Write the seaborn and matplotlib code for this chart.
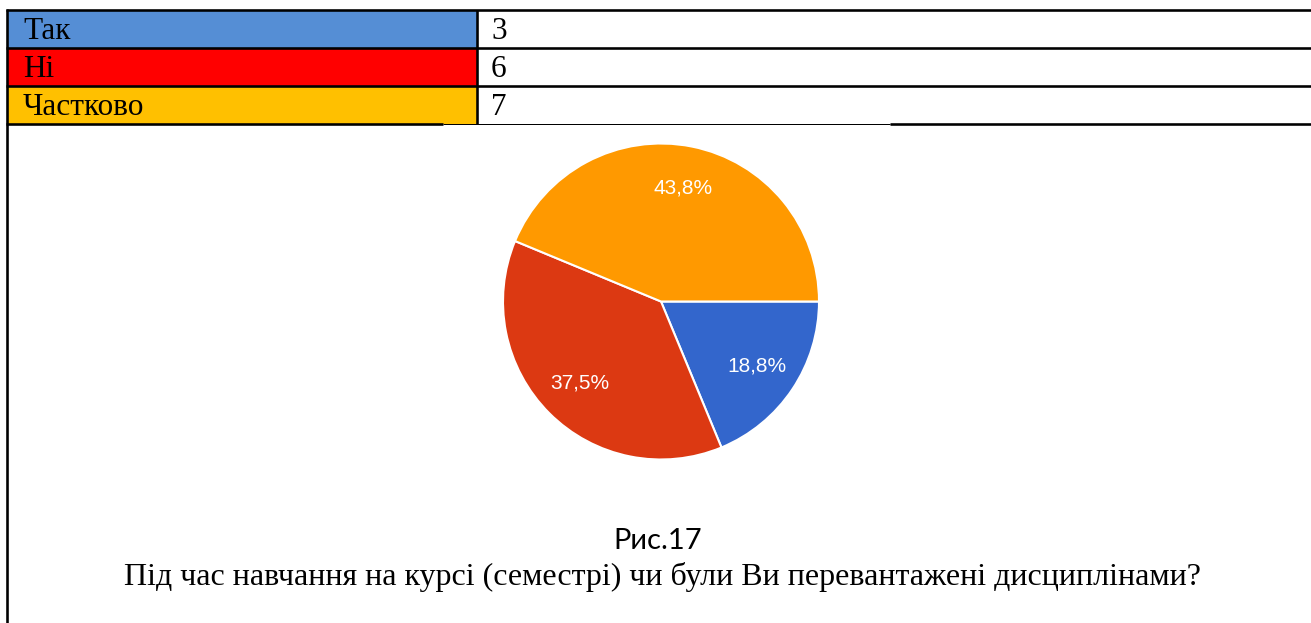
import matplotlib
matplotlib.use("Agg")
import matplotlib.pyplot as plt
import seaborn as sns
from matplotlib.patches import Rectangle

# ---- data ----
categories = ["Так", "Ні", "Частково"]
counts = [3, 6, 7]
cell_colors = ["#558ED5", "#FF0000", "#FFC000"]
pie_colors = ["#3366CC", "#DC3912", "#FF9900"]
fig_label = "Рис.17"
question = "Під час навчання на курсі (семестрі) чи були Ви перевантажені дисциплінами?"

sns.set_theme(style="white")
plt.rcParams['font.family'] = ['Liberation Serif', 'DejaVu Serif']
plt.rcParams['text.color'] = 'black'

W, H = 1311, 623
fig = plt.figure(figsize=(W / 100, H / 100), dpi=100)
fig.patch.set_facecolor("white")

# overlay axes in pixel coordinates
ov = fig.add_axes([0, 0, 1, 1])
ov.set_xlim(0, W)
ov.set_ylim(H, 0)
ov.axis("off")

px = 0.72  # points per pixel
row_top = [10, 48, 86]
row_h = 38
for i, (cat, n, col) in enumerate(zip(categories, counts, cell_colors)):
    y0 = row_top[i]
    ov.add_patch(Rectangle((8, y0), 469, row_h, facecolor=col, edgecolor="none"))
    ov.text(23, y0 + 29, cat, fontsize=22.5, color="black", va="baseline", ha="left")
    ov.text(491, y0 + 29, str(n), fontsize=22.5, color="black", va="baseline", ha="left")

thick = 2.6 * px
for y in [10, 47.5, 85.5]:
    ov.plot([6, W], [y, y], color="black", lw=thick, solid_capstyle="butt")
ov.plot([6, 443], [124, 124], color="black", lw=thick, solid_capstyle="butt")
ov.plot([443, 890], [123.5, 123.5], color="black", lw=1.0 * px, solid_capstyle="butt")
ov.plot([890, W], [124, 124], color="black", lw=thick, solid_capstyle="butt")
ov.plot([7, 7], [9, H], color="black", lw=thick, solid_capstyle="butt")
ov.plot([477, 477], [10, 124], color="black", lw=thick, solid_capstyle="butt")

# captions
ov.text(658, 549, fig_label, fontsize=21, family=["Lato", "DejaVu Sans"], color="black",
        ha="center", va="baseline")
ov.text(662, 585, question, fontsize=23, color="black", ha="center", va="baseline")

# pie
cx, cy, r = 661, 301.5, 158
pax = fig.add_axes([(cx - r) / W, 1 - (cy + r) / H, 2 * r / W, 2 * r / H])
wedges, texts, autotexts = pax.pie(
    counts, colors=pie_colors, startangle=0, counterclock=False,
    autopct=lambda p: f"{p:.1f}%".replace(".", ","), pctdistance=0.73,
    wedgeprops=dict(edgecolor="white", linewidth=1.5),
    textprops=dict(color="white", fontsize=15, family=["Liberation Sans", "DejaVu Sans"]))
pax.set_xlim(-1, 1)
pax.set_ylim(-1, 1)
pax.set_aspect("equal")
pax.axis("off")

fig.savefig("out.png", dpi=100, facecolor="white")
